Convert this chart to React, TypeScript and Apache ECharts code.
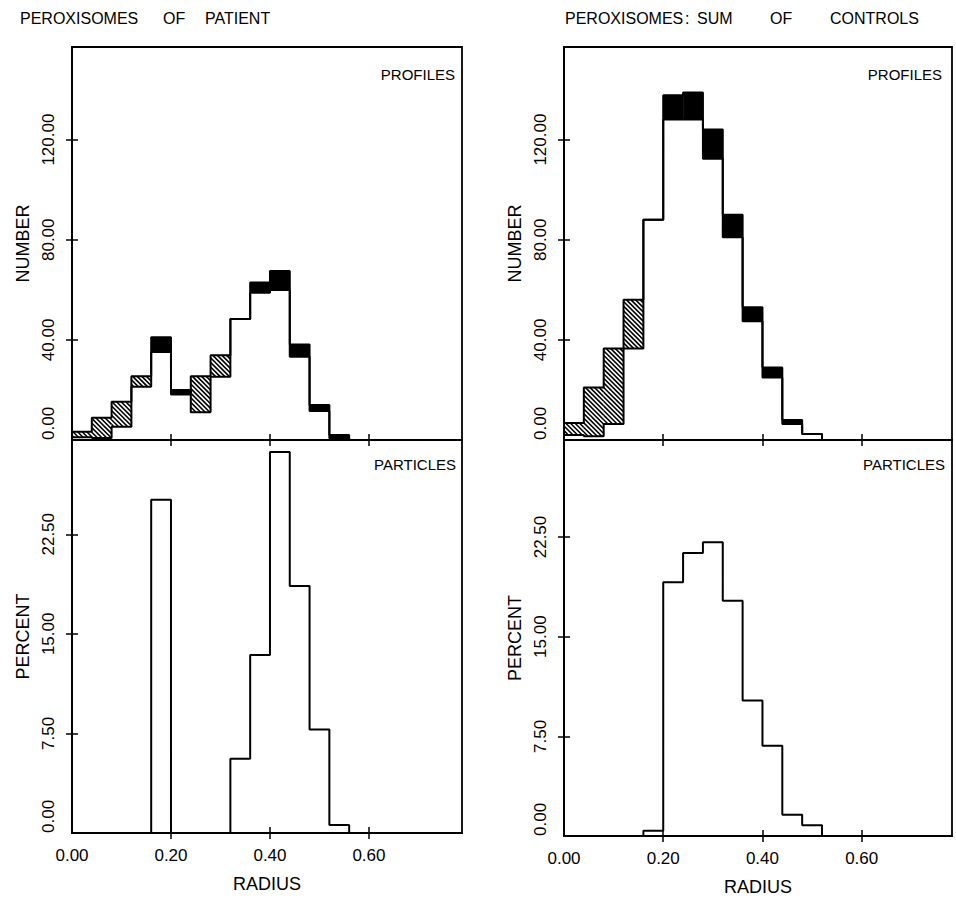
import React, { useEffect, useRef } from "react";
import * as echarts from "echarts";

// ---------- data ----------
const binEdges = [0.0, 0.04, 0.08, 0.12, 0.16, 0.2, 0.24, 0.28, 0.32, 0.36, 0.4, 0.44, 0.48, 0.52, 0.56, 0.6];

// Profiles (NUMBER): hatched where A > B, black where B > A
const patientProfileA = [3.3, 8.9, 15.3, 25.5, 35.2, 18.2, 25.5, 33.9, 48.3, 58.8, 59.9, 33.3, 11.6, 0.7];
const patientProfileB = [1.1, 0.8, 5.3, 21.3, 41.0, 20.0, 11.1, 25.3, 48.3, 62.9, 67.5, 38.2, 14.0, 2.0];
const controlsProfileA = [6.8, 21.0, 36.6, 56.0, 88.0, 128.0, 128.0, 112.4, 81.0, 47.4, 25.0, 6.4, 2.4];
const controlsProfileB = [2.0, 1.5, 6.4, 36.6, 88.0, 137.7, 138.8, 124.0, 90.0, 53.0, 29.0, 8.0, 2.4];

// Particles (PERCENT)
const patientParticles = [0, 0, 0, 0, 25.1, 0, 0, 0, 5.6, 13.4, 28.7, 18.6, 7.8, 0.6];
const controlsParticles = [0, 0, 0, 0, 0.4, 19.1, 21.3, 22.1, 17.7, 10.2, 6.8, 1.6, 0.8];

const numberTicks = [0, 40, 80, 120];
const percentTicks = [0, 7.5, 15, 22.5];
const radiusTicks = [0, 0.2, 0.4, 0.6];

const leftTitleWords = ["PEROXISOMES", "OF", "PATIENT"];
const rightTitleWords = ["PEROXISOMES", ":", "SUM", "OF", "CONTROLS"];
const profilesLabel = "PROFILES";
const particlesLabel = "PARTICLES";

// ---------- layout ----------
const FONT = "'Liberation Sans', Arial, Helvetica, sans-serif";
const grids = [
  { left: 72, top: 47, width: 390, height: 393 },
  { left: 72, top: 440, width: 390, height: 393 },
  { left: 564, top: 47, width: 388, height: 393 },
  { left: 564, top: 440, width: 388, height: 396 },
];
const xMax = [0.788, 0.788, 0.782, 0.782];
const yMax = [157, 29.6, 157, 29.8];

function stepData(vals: number[]) {
  const pts: number[][] = vals.map((v, i) => [binEdges[i], v]);
  pts.push([binEdges[vals.length], 0]);
  return pts;
}

function fillData(a: number[], b: number[]) {
  return a.map((v, i) => [binEdges[i], binEdges[i + 1], v, b[i]]);
}

const renderFill = (params: any, api: any) => {
  const x0 = api.value(0);
  const x1 = api.value(1);
  const a = api.value(2);
  const b = api.value(3);
  if (a === b) return { type: "group", children: [] };
  const lo = Math.min(a, b);
  const hi = Math.max(a, b);
  const p0 = api.coord([x0, hi]);
  const p1 = api.coord([x1, lo]);
  const rx0 = p0[0], ry0 = p0[1], rx1 = p1[0], ry1 = p1[1];
  if (b > a) {
    return {
      type: "rect",
      shape: { x: rx0, y: ry0, width: rx1 - rx0, height: ry1 - ry0 },
      style: { fill: "#000" },
    };
  }
  const children: any[] = [];
  const step = 4.6;
  const cMin = ry0 - rx1;
  const cMax = ry1 - rx0;
  for (let k = Math.ceil(cMin / step); k * step <= cMax; k++) {
    const c = k * step;
    const xs = Math.max(rx0, ry0 - c);
    const xe = Math.min(rx1, ry1 - c);
    if (xe - xs > 0.3) {
      children.push({
        type: "line",
        shape: { x1: xs, y1: xs + c, x2: xe, y2: xe + c },
        style: { stroke: "#000", lineWidth: 1.6, lineCap: "butt" },
      });
    }
  }
  return { type: "group", children };
};

function App() {
  const ref = useRef<HTMLDivElement>(null);
  useEffect(() => {
    if (!ref.current) return;
    const chart = echarts.init(ref.current, undefined, { renderer: "svg" });
    const axisLine = { show: true, lineStyle: { color: "#000", width: 1.8 } };
    const tickStyle = { color: "#000", width: 1.5 };

    const xAxis: any[] = [];
    const yAxis: any[] = [];
    grids.forEach((_, g) => {
      const bottom = g === 1 || g === 3;
      xAxis.push({
        gridIndex: g,
        type: "value",
        min: 0,
        max: xMax[g],
        axisLine,
        splitLine: { show: false },
        axisTick: { show: true, inside: false, length: 6, lineStyle: tickStyle, customValues: radiusTicks.slice(1) },
        axisLabel: bottom
          ? {
              show: true,
              customValues: radiusTicks,
              formatter: (v: number) => v.toFixed(2),
              color: "#000",
              fontFamily: FONT,
              fontSize: 17,
              margin: 14,
            }
          : { show: false },
        name: bottom ? "RADIUS" : "",
        nameLocation: "middle",
        nameGap: 42,
        nameTextStyle: { color: "#000", fontFamily: FONT, fontSize: 18 },
      });
      xAxis.push({
        gridIndex: g,
        type: "value",
        min: 0,
        max: xMax[g],
        position: "bottom",
        axisLine: { show: false },
        splitLine: { show: false },
        axisTick: { show: true, inside: true, length: 6, lineStyle: tickStyle, customValues: radiusTicks.slice(1) },
        axisLabel: { show: false },
      });
      const ticks = bottom ? percentTicks : numberTicks;
      yAxis.push({
        gridIndex: g,
        type: "value",
        min: 0,
        max: yMax[g],
        axisLine,
        splitLine: { show: false },
        axisTick: { show: true, inside: false, length: 6, lineStyle: tickStyle, customValues: ticks.slice(1) },
        axisLabel: {
          show: true,
          customValues: ticks,
          formatter: (v: number) => v.toFixed(2),
          rotate: 90,
          alignMinLabel: "left",
          color: "#000",
          fontFamily: FONT,
          fontSize: 17,
          margin: 15,
        },
        name: bottom ? "PERCENT" : "NUMBER",
        nameLocation: "middle",
        nameGap: 40,
        nameTextStyle: { color: "#000", fontFamily: FONT, fontSize: 18 },
      });
      yAxis.push({
        gridIndex: g,
        type: "value",
        min: 0,
        max: yMax[g],
        position: "left",
        axisLine: { show: false },
        splitLine: { show: false },
        axisTick: { show: true, inside: true, length: 6, lineStyle: tickStyle, customValues: ticks.slice(1) },
        axisLabel: { show: false },
      });
    });

    const lineStyle = { color: "#000", width: 2 };
    const stepSeries = (g: number, vals: number[]) => ({
      type: "line",
      xAxisIndex: 2 * g,
      yAxisIndex: 2 * g,
      step: "end",
      symbol: "none",
      data: stepData(vals),
      lineStyle,
      z: 5,
    });
    const fillSeries = (g: number, a: number[], b: number[]) => ({
      type: "custom",
      xAxisIndex: 2 * g,
      yAxisIndex: 2 * g,
      renderItem: renderFill,
      dimensions: ["x0", "x1", "a", "b"],
      encode: { x: [0, 1], y: [2, 3] },
      data: fillData(a, b),
      z: 3,
    });

    const textStyle = (size: number) => ({ fill: "#000", font: `${size}px ${FONT}` });
    const leftX = [20, 163, 205];
    const rightX = [565, 685, 697, 770, 830];

    chart.setOption({
      animation: false,
      backgroundColor: "#fff",
      grid: grids.map((gr) => ({ ...gr, show: true, borderColor: "#000", borderWidth: 1.8, containLabel: false })),
      xAxis,
      yAxis,
      series: [
        fillSeries(0, patientProfileA, patientProfileB),
        stepSeries(0, patientProfileA),
        stepSeries(0, patientProfileB),
        stepSeries(1, patientParticles),
        fillSeries(2, controlsProfileA, controlsProfileB),
        stepSeries(2, controlsProfileA),
        stepSeries(2, controlsProfileB),
        stepSeries(3, controlsParticles),
      ],
      graphic: [
        ...leftTitleWords.map((w, i) => ({
          type: "text",
          x: leftX[i],
          y: 10,
          style: { text: w, ...textStyle(16) },
        })),
        ...rightTitleWords.map((w, i) => ({
          type: "text",
          x: rightX[i],
          y: 10,
          style: { text: w, ...textStyle(16) },
        })),
        { type: "text", x: 455, y: 67, style: { text: profilesLabel, textAlign: "right", ...textStyle(15) } },
        { type: "text", x: 456, y: 457, style: { text: particlesLabel, textAlign: "right", ...textStyle(15) } },
        { type: "text", x: 942, y: 67, style: { text: profilesLabel, textAlign: "right", ...textStyle(15) } },
        { type: "text", x: 945, y: 457, style: { text: particlesLabel, textAlign: "right", ...textStyle(15) } },
      ],
    });
    return () => chart.dispose();
  }, []);
  return <div ref={ref} style={{ position: "absolute", left: 0, top: 0, width: 956, height: 902 }} />;
}

export default App;
